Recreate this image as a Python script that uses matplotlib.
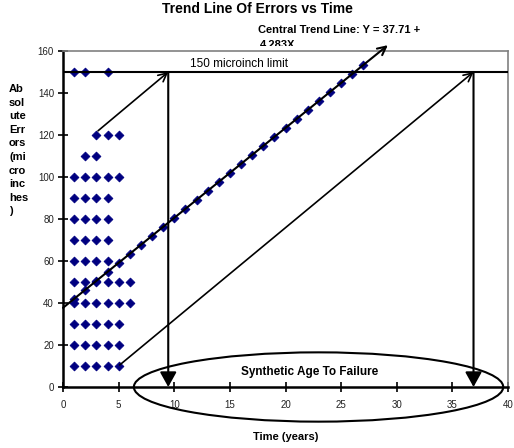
import matplotlib
matplotlib.use("Agg")
import matplotlib.pyplot as plt
from matplotlib.patches import Ellipse
from matplotlib.transforms import Bbox

plt.rcParams['font.family'] = ['Liberation Sans', 'DejaVu Sans']

# Observed error clusters: (years, microinches)
obs_x = [1, 2, 4,
         3, 4, 5,
         2, 3,
         1, 2, 3, 4, 5,
         1, 2, 3, 4,
         1, 2, 3, 4,
         1, 2, 3, 4,
         1, 2, 3, 4,
         1, 2, 3, 4, 5, 6,
         1, 2, 3, 4, 5, 6,
         1, 2, 3, 4, 5,
         1, 2, 3, 4, 5,
         1, 2, 3, 4, 5]
obs_y = [150, 150, 150,
         120, 120, 120,
         110, 110,
         100, 100, 100, 100, 100,
         90, 90, 90, 90,
         80, 80, 80, 80,
         70, 70, 70, 70,
         60, 60, 60, 60,
         50, 50, 50, 50, 50, 50,
         40, 40, 40, 40, 40, 40,
         30, 30, 30, 30, 30,
         20, 20, 20, 20, 20,
         10, 10, 10, 10, 10]

# Points along the central trend line
trend_x = list(range(1, 28))
trend_y = [41.99, 46.28, 50.56, 54.84, 59.13, 63.41, 67.69, 71.97, 76.26,
           80.54, 84.82, 89.11, 93.39, 97.67, 101.96, 106.24, 110.52, 114.80,
           119.09, 123.37, 127.65, 131.94, 136.22, 140.50, 144.79, 149.07, 153.35]

intercept = 37.71
slope = 4.283
limit = 150
fail_early = 9.46
fail_late = 36.9

x_ticks = [0, 5, 10, 15, 20, 25, 30, 35, 40]
y_ticks = [0, 20, 40, 60, 80, 100, 120, 140, 160]

fig = plt.figure(figsize=(5.14, 4.48), dpi=100)
ax = fig.add_axes([63/514, 1-387/448, 445/514, 336/448])
ax.set_xlim(0, 40)
ax.set_ylim(0, 160)
ax.set_xticks(x_ticks)
ax.set_yticks(y_ticks)
ax.tick_params(direction='inout', length=7, width=1.2, labelsize=7, colors='black', labelcolor='#222222')
ax.tick_params(axis='y', pad=3)
ax.tick_params(axis='x', pad=6)
for s in ['top', 'right']:
    ax.spines[s].set_color('#808080')
    ax.spines[s].set_linewidth(1.2)
for s in ['left', 'bottom']:
    ax.spines[s].set_color('black')
    ax.spines[s].set_linewidth(1.8)

navy = '#000080'
ax.scatter(obs_x, obs_y, marker='D', s=20, color=navy, zorder=3, linewidths=0.6, edgecolors=navy)
ax.scatter(trend_x, trend_y, marker='D', s=20, color=navy, zorder=3, linewidths=0.6, edgecolors=navy)

# 150 microinch limit
ax.plot([0, 40], [limit, limit], color='black', lw=1.5, zorder=4)
ax.text(11.4, limit + 0.8, '150 microinch limit', fontsize=8.5, va='bottom', ha='left')

# central trend line with arrow
tip_x = 29.2
ax.annotate('', xy=(tip_x, intercept + slope * tip_x), xytext=(0, intercept),
            arrowprops=dict(arrowstyle='->,head_length=0.6,head_width=0.3', lw=1.5,
                            color='black', shrinkA=0, shrinkB=0),
            annotation_clip=False, zorder=5)

# diagonal arrows
ax.annotate('', xy=(fail_early, limit), xytext=(3.15, 122),
            arrowprops=dict(arrowstyle='->,head_length=0.6,head_width=0.3', lw=1.2,
                            color='black', shrinkA=0, shrinkB=0), zorder=5)
ax.annotate('', xy=(fail_late, limit), xytext=(5.1, 10.5),
            arrowprops=dict(arrowstyle='->,head_length=0.6,head_width=0.3', lw=1.2,
                            color='black', shrinkA=0, shrinkB=0), zorder=5)

# vertical arrows down to axis
for fx in [fail_early, fail_late]:
    ax.annotate('', xy=(fx, 0), xytext=(fx, limit),
                arrowprops=dict(arrowstyle='-|>,head_length=0.9,head_width=0.5', lw=1.5,
                                color='black', shrinkA=0, shrinkB=0),
                annotation_clip=False, zorder=5)

# ellipse
ell = Ellipse((22.97, 0), width=33.2, height=33, fill=False, lw=1.5,
              edgecolor='black', clip_on=False, zorder=6)
ax.add_patch(ell)
ax.text(22.2, 7.0, 'Synthetic Age To Failure', fontsize=8.5, fontweight='bold',
        ha='center', va='center', zorder=7)

ax.set_xlabel('Time (years)', fontsize=8, fontweight='bold', labelpad=16)

# titles
fig.text(257/514, 1-9/448, 'Trend Line Of Errors vs Time', fontsize=10, fontweight='bold',
         ha='center', va='center')
fig.text(258/514, 1-30/448, 'Central Trend Line: Y = 37.71 +', fontsize=8, fontweight='bold',
         ha='left', va='center')
t2 = fig.text(260/514, 1-40/448, '4.283X', fontsize=8, fontweight='bold',
              ha='left', va='top')
t2.set_clip_box(Bbox([[0, 448 - 46], [514, 448]]))
t2.set_clip_on(True)

fig.text(9/514, 1-84/448, 'Ab\nsol\nute\nErr\nors\n(mi\ncro\ninc\nhes\n)',
         fontsize=8, fontweight='bold', ha='left', va='top', linespacing=1.45)

fig.savefig('out.png', dpi=100)
